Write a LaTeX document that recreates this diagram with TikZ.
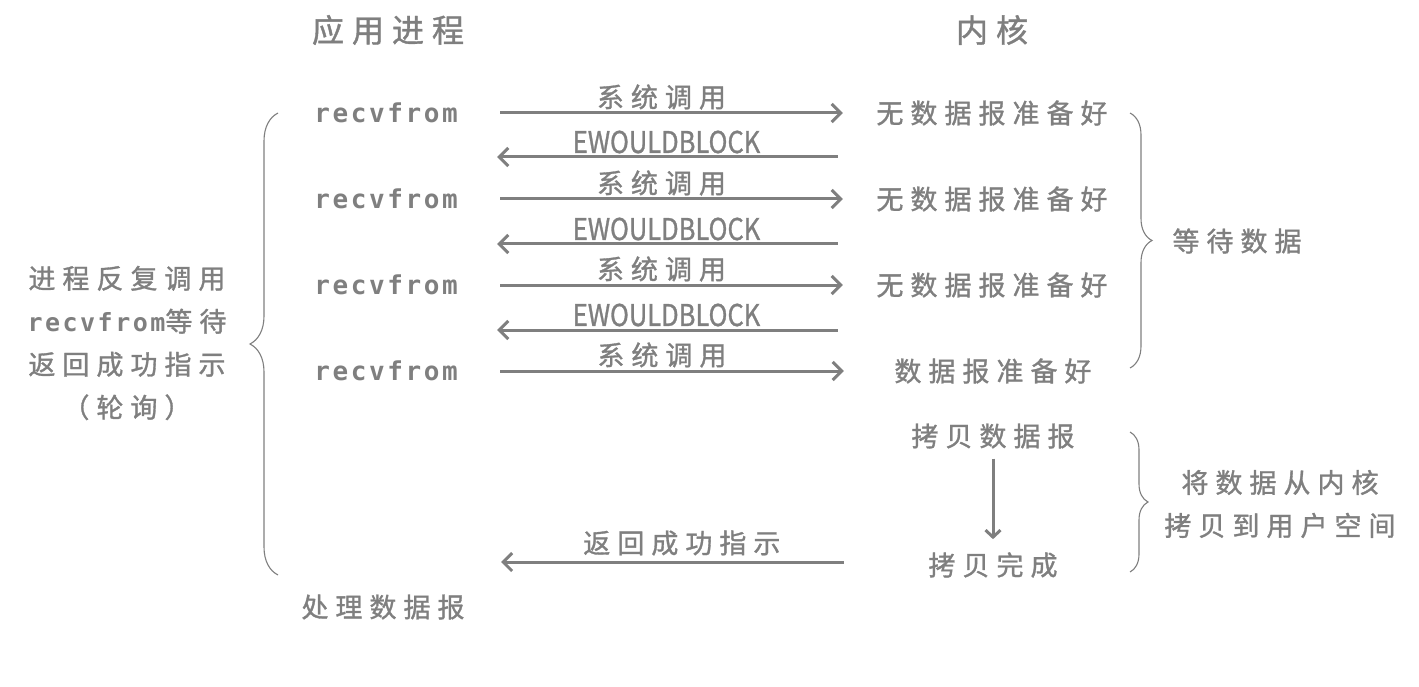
\documentclass[tikz,border=0pt]{standalone}
\usepackage{fontspec}
\usetikzlibrary{arrows.meta, positioning, calc, decorations.pathreplacing}
\newfontfamily\kaiText[LetterSpace=26, FakeBold=1.2]{Noto Sans CJK SC}
\newfontfamily\kaiHead[LetterSpace=25, FakeBold=1.2]{Noto Sans CJK SC}
\newfontfamily\sockCall[LetterSpace=10]{DejaVu Sans Mono}
\newfontfamily\errCode[FakeStretch=0.85, FakeBold=1]{Noto Sans CJK SC}
\definecolor{ioGray}{HTML}{7F7F7F}
\newcommand{\rcvCall}{{\sockCall\bfseries\fontsize{25}{28}\selectfont recvfrom}}

\begin{document}
\begin{tikzpicture}[x=1pt, y=-1pt,
  head/.style={text=ioGray, inner sep=0pt, font=\kaiHead\fontsize{32}{36}\selectfont},
  txt/.style={text=ioGray, inner sep=0pt, align=center, font=\kaiText\fontsize{27}{43}\selectfont},
  kern/.style={txt, text width=260pt},
  proc/.style={text=ioGray, inner sep=0pt, text width=150pt, align=center,
    font=\sockCall\bfseries\fontsize{26}{28}\selectfont},
  err/.style={text=ioGray, inner sep=0pt, font=\errCode\fontsize{30}{34}\selectfont},
  call/.style={draw=ioGray, line width=3pt, -{Straight Barb[length=9pt, width=18pt]},
    shorten <=39pt, shorten >=19pt},
  ret/.style={draw=ioGray, line width=3pt, -{Straight Barb[length=9pt, width=18pt]},
    shorten <=24pt, shorten >=36pt},
  brc/.style={draw=ioGray, line width=1.1pt, decorate, decoration={brace, amplitude=#1}}]

  \path[use as bounding box] (0,0) rectangle (1419,687);

  % column heads
  \node[head] (app) at (388,30) {应用进程};
  \node[head] (ker) at (992,30) {内核};

  % application side
  \node[proc] (rf1) at (386,113) {recvfrom};
  \node[proc] (rf2) at (386,199) {recvfrom};
  \node[proc] (rf3) at (386,285) {recvfrom};
  \node[proc] (rf4) at (386,371) {recvfrom};
  \node[txt] (done) at (383,607) {处理数据报};

  % kernel side
  \node[kern] (k1) at (992,113) {无数据报准备好};
  \node[kern] (k2) at (992,199) {无数据报准备好};
  \node[kern] (k3) at (992,285) {无数据报准备好};
  \node[kern] (k4) at (993,371) {数据报准备好};
  \node[kern] (kc1) at (993,436) {拷贝数据报};
  \node[kern] (kc2) at (993,565) {拷贝完成};

  % calls and replies
  \draw[call] (rf1) -- (k1) node[txt, midway, yshift=16pt] (s1) {系统调用};
  \draw[ret] ([yshift=-44pt]k1.west) -- ([yshift=-44pt]rf1.east)
    node[err, midway, xshift=5pt, yshift=15pt] (e1) {EWOULDBLOCK};
  \draw[call] (rf2) -- (k2) node[txt, midway, yshift=16pt] (s2) {系统调用};
  \draw[ret] ([yshift=-45pt]k2.west) -- ([yshift=-45pt]rf2.east)
    node[err, midway, xshift=5pt, yshift=15pt] (e2) {EWOULDBLOCK};
  \draw[call] (rf3) -- (k3) node[txt, midway, yshift=16pt] (s3) {系统调用};
  \draw[ret] ([yshift=-45pt]k3.west) -- ([yshift=-45pt]rf3.east)
    node[err, midway, xshift=5pt, yshift=15pt] (e3) {EWOULDBLOCK};
  \draw[call] (rf4) -- (k4) node[txt, midway, yshift=16pt] (s4) {系统调用};

  \draw[draw=ioGray, line width=3pt, -{Straight Barb[length=7pt, width=15pt]},
    shorten <=10pt, shorten >=13pt] (kc1) -- (kc2);

  \coordinate (ack) at (501,562);
  \draw[ret, shorten <=19pt, shorten >=0pt] (kc2.west |- ack) -- (ack)
    node[txt, midway, yshift=19pt] (s5) {返回成功指示};

  % braces and their notes
  \draw[brc=28pt] (278,575) -- (278,113);
  \node[txt] (poll) at (127,343) {进程反复调用\\\rcvCall 等待\\返回成功指示\\（轮询）};

  \draw[brc=22pt] (1130,113) -- (1130,368);
  \node[txt] (wait) at (1237,241) {等待数据};

  \draw[brc=18pt] (1130,432) -- (1130,572);
  \node[txt] (copy) at (1280,504) {将数据从内核\\拷贝到用户空间};
\end{tikzpicture}
\end{document}
